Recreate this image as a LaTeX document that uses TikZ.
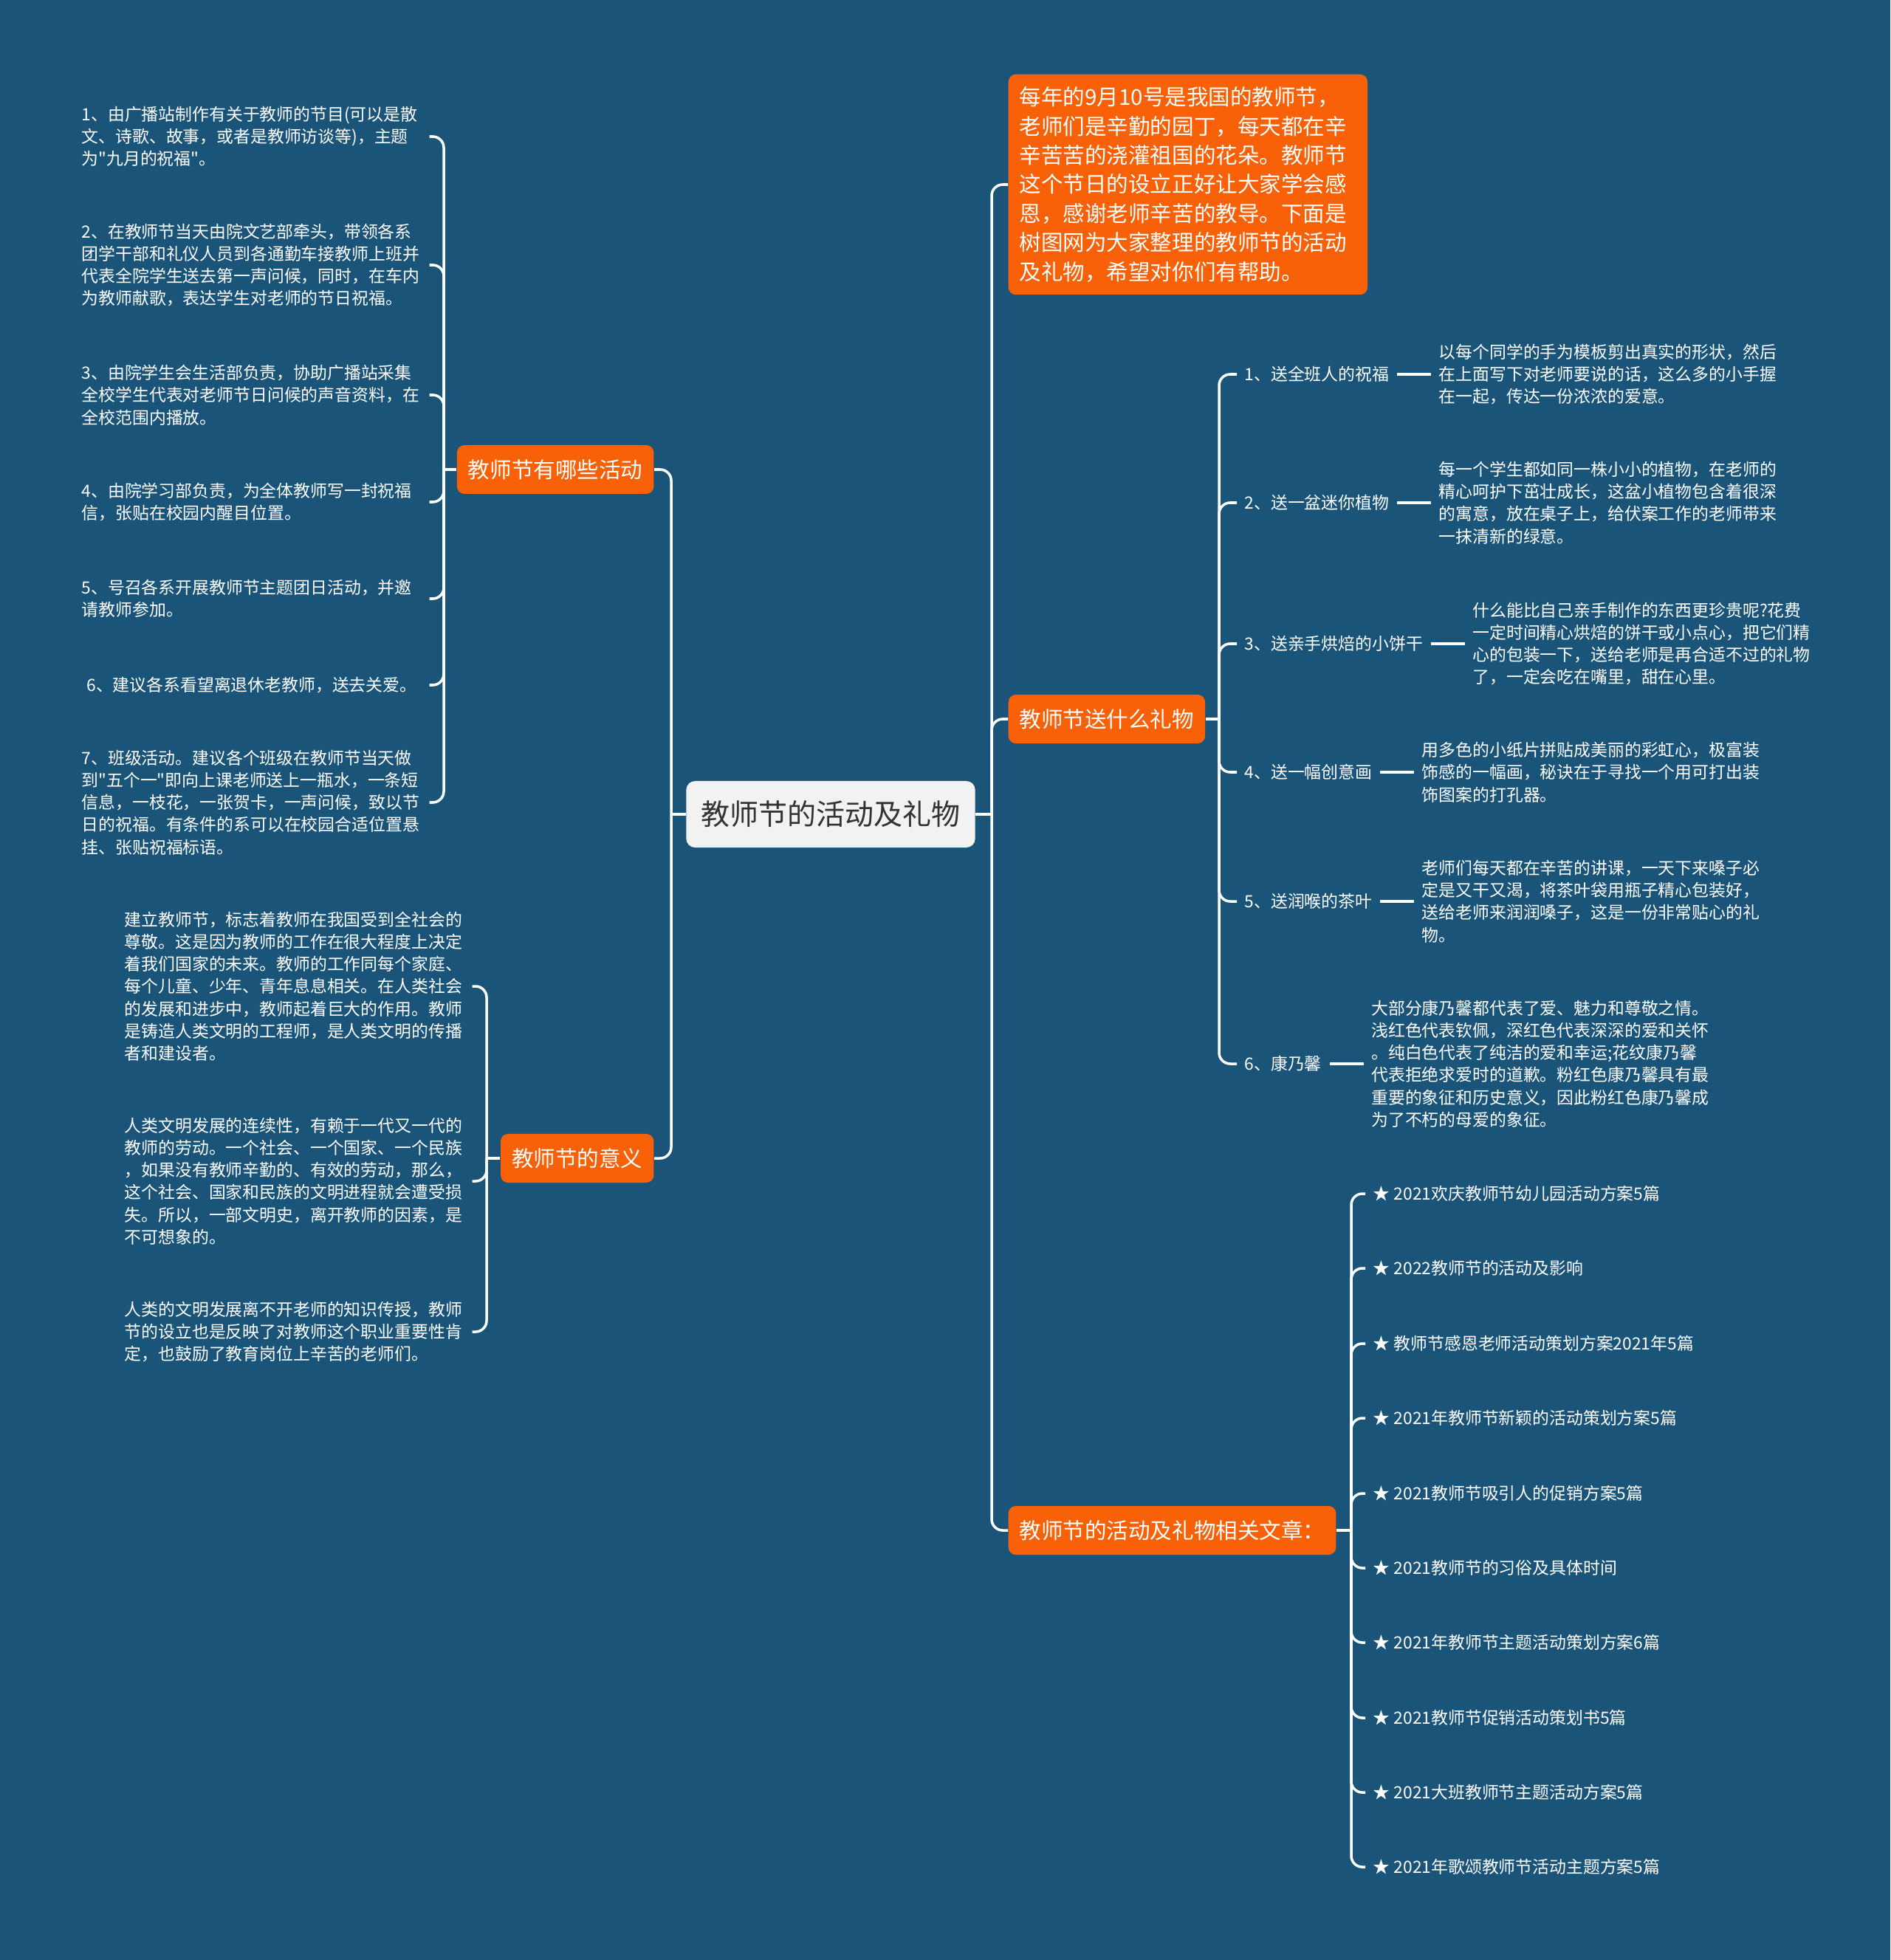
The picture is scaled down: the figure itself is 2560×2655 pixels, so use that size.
\documentclass[tikz,border=0pt]{standalone}
\usepackage{fontspec}
\setmainfont{Noto Sans CJK SC}[Ligatures=TeXOff]
\usepackage{xcolor}
\usepackage{tikz}
\usetikzlibrary{positioning}
\definecolor{bgblue}{HTML}{1B5479}
\definecolor{topicorange}{HTML}{F96108}
\definecolor{rootgray}{HTML}{F2F2F2}
\definecolor{roottext}{HTML}{333333}

\begin{document}
\begin{tikzpicture}[
    x=0.01cm, y=-0.01cm,
    rootbox/.style={rectangle, fill=rootgray, text=roottext, rounded corners=1.2mm, minimum height=0.9cm, inner xsep=0.2cm, font=\fontsize{11.1pt}{13pt}\selectfont},
    topic/.style={rectangle, fill=topicorange, text=white, rounded corners=1mm, minimum height=0.66cm, inner xsep=0.15cm, font=\fontsize{8.4pt}{11.2pt}\selectfont},
    leaf/.style={text=white, align=left, text width=4.6cm, inner xsep=0.1cm, inner ysep=0.05cm, anchor=west, font=\fontsize{6.5pt}{8.6pt}\selectfont},
    gift/.style={text=white, inner xsep=0.1cm, anchor=west, font=\fontsize{6.5pt}{8.6pt}\selectfont},
    article/.style={text=white, inner xsep=0.1cm, anchor=west, font=\fontsize{6.5pt}{8.6pt}\selectfont},
    link/.style={draw=white, line width=1pt, rounded corners=1.5mm}
]
\fill[bgblue] (0,0) rectangle (2560,2655);

% Centre
\node[rootbox] (root) at (1125,1103) {教师节的活动及礼物};
\coordinate (ltrunk) at (909,1103);
\coordinate (rtrunk) at (1343,1103);

% Left: activities
\node[topic, anchor=east] (act) at (886,636) {教师节有哪些活动};
\coordinate (acttrunk) at (601,636);
\node[leaf] (a1) at (100,185) {1、由广播站制作有关于教师的节目(可以是散\\文、诗歌、故事，或者是教师访谈等)，主题\\为"九月的祝福"。};
\node[leaf] (a2) at (100,359) {2、在教师节当天由院文艺部牵头，带领各系\\团学干部和礼仪人员到各通勤车接教师上班并\\代表全院学生送去第一声问候，同时，在车内\\为教师献歌，表达学生对老师的节日祝福。};
\node[leaf] (a3) at (100,535) {3、由院学生会生活部负责，协助广播站采集\\全校学生代表对老师节日问候的声音资料，在\\全校范围内播放。};
\node[leaf] (a4) at (100,680) {4、由院学习部负责，为全体教师写一封祝福\\信，张贴在校园内醒目位置。};
\node[leaf] (a5) at (100,811) {5、号召各系开展教师节主题团日活动，并邀\\请教师参加。};
\node[leaf, align=center] (a6) at (100,928) {6、建议各系看望离退休老教师，送去关爱。};
\node[leaf] (a7) at (100,1087) {7、班级活动。建议各个班级在教师节当天做\\到"五个一"即向上课老师送上一瓶水，一条短\\信息，一枝花，一张贺卡，一声问候，致以节\\日的祝福。有条件的系可以在校园合适位置悬\\挂、张贴祝福标语。};

% Left: meaning
\node[topic, anchor=east] (mean) at (886,1569) {教师节的意义};
\coordinate (meantrunk) at (659,1569);
\node[leaf] (m1) at (158,1336) {建立教师节，标志着教师在我国受到全社会的\\尊敬。这是因为教师的工作在很大程度上决定\\着我们国家的未来。教师的工作同每个家庭、\\每个儿童、少年、青年息息相关。在人类社会\\的发展和进步中，教师起着巨大的作用。教师\\是铸造人类文明的工程师，是人类文明的传播\\者和建设者。};
\node[leaf] (m2) at (158,1600) {人类文明发展的连续性，有赖于一代又一代的\\教师的劳动。一个社会、一个国家、一个民族\\，如果没有教师辛勤的、有效的劳动，那么，\\这个社会、国家和民族的文明进程就会遭受损\\失。所以，一部文明史，离开教师的因素，是\\不可想象的。};
\node[leaf] (m3) at (158,1804) {人类的文明发展离不开老师的知识传授，教师\\节的设立也是反映了对教师这个职业重要性肯\\定，也鼓励了教育岗位上辛苦的老师们。};

% Right: intro
\node[topic, anchor=west, align=left, text width=4.56cm, inner ysep=0.17cm] (intro) at (1365,250) {每年的9月10号是我国的教师节，\\老师们是辛勤的园丁，每天都在辛\\辛苦苦的浇灌祖国的花朵。教师节\\这个节日的设立正好让大家学会感\\恩，感谢老师辛苦的教导。下面是\\树图网为大家整理的教师节的活动\\及礼物，希望对你们有帮助。};

% Right: gifts
\node[topic, anchor=west] (gifts) at (1365,974) {教师节送什么礼物};
\coordinate (gifttrunk) at (1651,974);
\node[gift] (g1) at (1675,507) {1、送全班人的祝福};
\node[gift] (g2) at (1675,681) {2、送一盆迷你植物};
\node[gift] (g3) at (1675,872) {3、送亲手烘焙的小饼干};
\node[gift] (g4) at (1675,1046) {4、送一幅创意画};
\node[gift] (g5) at (1675,1221) {5、送润喉的茶叶};
\node[gift] (g6) at (1675,1441) {6、康乃馨};
\node[leaf, right=0.46cm of g1] (d1) {以每个同学的手为模板剪出真实的形状，然后\\在上面写下对老师要说的话，这么多的小手握\\在一起，传达一份浓浓的爱意。};
\node[leaf, right=0.46cm of g2] (d2) {每一个学生都如同一株小小的植物，在老师的\\精心呵护下茁壮成长，这盆小植物包含着很深\\的寓意，放在桌子上，给伏案工作的老师带来\\一抹清新的绿意。};
\node[leaf, right=0.46cm of g3] (d3) {什么能比自己亲手制作的东西更珍贵呢?花费\\一定时间精心烘焙的饼干或小点心，把它们精\\心的包装一下，送给老师是再合适不过的礼物\\了，一定会吃在嘴里，甜在心里。};
\node[leaf, right=0.46cm of g4] (d4) {用多色的小纸片拼贴成美丽的彩虹心，极富装\\饰感的一幅画，秘诀在于寻找一个用可打出装\\饰图案的打孔器。};
\node[leaf, right=0.46cm of g5] (d5) {老师们每天都在辛苦的讲课，一天下来嗓子必\\定是又干又渴，将茶叶袋用瓶子精心包装好，\\送给老师来润润嗓子，这是一份非常贴心的礼\\物。};
\node[leaf, right=0.46cm of g6] (d6) {大部分康乃馨都代表了爱、魅力和尊敬之情。\\浅红色代表钦佩，深红色代表深深的爱和关怀\\。纯白色代表了纯洁的爱和幸运;花纹康乃馨\\代表拒绝求爱时的道歉。粉红色康乃馨具有最\\重要的象征和历史意义，因此粉红色康乃馨成\\为了不朽的母爱的象征。};

% Right: related articles
\node[topic, anchor=west] (arts) at (1365,2073) {教师节的活动及礼物相关文章：};
\coordinate (arttrunk) at (1830,2073);
\node[article] (r1) at (1849,1617) {★ 2021欢庆教师节幼儿园活动方案5篇};
\node[article] (r2) at (1849,1718) {★ 2022教师节的活动及影响};
\node[article] (r3) at (1849,1820) {★ 教师节感恩老师活动策划方案2021年5篇};
\node[article] (r4) at (1849,1921) {★ 2021年教师节新颖的活动策划方案5篇};
\node[article] (r5) at (1849,2023) {★ 2021教师节吸引人的促销方案5篇};
\node[article] (r6) at (1849,2124) {★ 2021教师节的习俗及具体时间};
\node[article] (r7) at (1849,2225) {★ 2021年教师节主题活动策划方案6篇};
\node[article] (r8) at (1849,2327) {★ 2021教师节促销活动策划书5篇};
\node[article] (r9) at (1849,2428) {★ 2021大班教师节主题活动方案5篇};
\node[article] (r10) at (1849,2529) {★ 2021年歌颂教师节活动主题方案5篇};

% Links
\draw[link] (root.west) -- (ltrunk);
\draw[link] (ltrunk) |- (act.east);
\draw[link] (ltrunk) |- (mean.east);
\draw[link] (root.east) -- (rtrunk);
\draw[link] (rtrunk) |- (intro.west);
\draw[link] (rtrunk) |- (gifts.west);
\draw[link] (rtrunk) |- (arts.west);

\draw[link] (act.west) -- (acttrunk);
\draw[link] (acttrunk) |- (a1.east);
\draw[link] (acttrunk) |- (a2.east);
\draw[link] (acttrunk) |- (a3.east);
\draw[link] (acttrunk) |- (a4.east);
\draw[link] (acttrunk) |- (a5.east);
\draw[link] (acttrunk) |- (a6.east);
\draw[link] (acttrunk) |- (a7.east);

\draw[link] (mean.west) -- (meantrunk);
\draw[link] (meantrunk) |- (m1.east);
\draw[link] (meantrunk) |- (m2.east);
\draw[link] (meantrunk) |- (m3.east);

\draw[link] (gifts.east) -- (gifttrunk);
\draw[link] (gifttrunk) |- (g1.west);
\draw[link] (gifttrunk) |- (g2.west);
\draw[link] (gifttrunk) |- (g3.west);
\draw[link] (gifttrunk) |- (g4.west);
\draw[link] (gifttrunk) |- (g5.west);
\draw[link] (gifttrunk) |- (g6.west);
\draw[link] (g1.east) -- (d1.west);
\draw[link] (g2.east) -- (d2.west);
\draw[link] (g3.east) -- (d3.west);
\draw[link] (g4.east) -- (d4.west);
\draw[link] (g5.east) -- (d5.west);
\draw[link] (g6.east) -- (d6.west);

\draw[link] (arts.east) -- (arttrunk);
\draw[link] (arttrunk) |- (r1.west);
\draw[link] (arttrunk) |- (r2.west);
\draw[link] (arttrunk) |- (r3.west);
\draw[link] (arttrunk) |- (r4.west);
\draw[link] (arttrunk) |- (r5.west);
\draw[link] (arttrunk) |- (r6.west);
\draw[link] (arttrunk) |- (r7.west);
\draw[link] (arttrunk) |- (r8.west);
\draw[link] (arttrunk) |- (r9.west);
\draw[link] (arttrunk) |- (r10.west);
\end{tikzpicture}
\end{document}
